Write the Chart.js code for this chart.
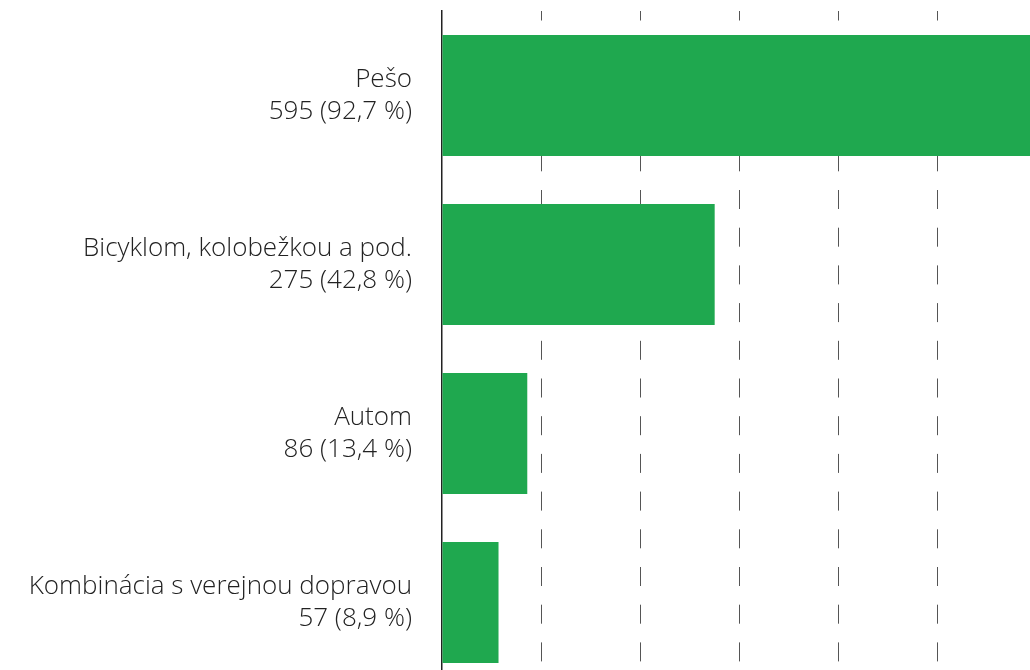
<!DOCTYPE html>
<html>
<head>
<meta charset="utf-8">
<script src="https://cdn.jsdelivr.net/npm/chart.js@4"></script>
<style>
  html, body { margin: 0; padding: 0; background: #fff; overflow: hidden; }
  canvas { display: block; }
</style>
</head>
<body>
<canvas id="myBarChart" width="1030" height="690"></canvas>
<script>
// data
const categories = ['Pešo', 'Bicyklom, kolobežkou a pod.', 'Autom', 'Kombinácia s verejnou dopravou'];
const counts = [595, 275, 86, 57];
const percents = ['92,7', '42,8', '13,4', '8,9'];
const xTicks = [0, 100, 200, 300, 400, 500];

// popisky v dvoch riadkoch
const labels = categories.map((c, i) => [c, `${counts[i]} (${percents[i]} %)`]);

const data_bar = {
  labels: labels,
  datasets: [{
    data: counts,
    backgroundColor: '#1fa84f',
    borderWidth: 0,
    categoryPercentage: 1,
    barPercentage: 0.716
  }]
};

const options_bar = {
  indexAxis: 'y',
  responsive: false,
  maintainAspectRatio: false,
  animation: false,
  layout: { padding: { top: 11, bottom: 3, right: 0 } },
  plugins: {
    legend: { display: false },
    tooltip: { enabled: false }
  },
  scales: {
    x: {
      min: 0,
      max: 593,
      afterBuildTicks: scale => {
        scale.ticks = xTicks.map(v => ({ value: v }));
      },
      afterFit: scale => {
        scale.height = 0;
        scale.paddingLeft = 0;
        scale.paddingRight = 0;
      },
      ticks: { display: false },
      border: { display: false, dash: [19, 18.7], dashOffset: 9.5 },
      grid: {
        drawTicks: false,
        color: ctx => ctx.tick && ctx.tick.value === 0 ? 'rgba(0,0,0,0)' : '#555',
        lineWidth: 1
      }
    },
    y: {
      afterFit: scale => {
        scale.width = 442;
        scale.paddingTop = 0;
        scale.paddingBottom = 0;
      },
      ticks: {
        padding: 30,
        color: '#222',
        font: { family: 'Open Sans', size: 26, weight: 300, lineHeight: 32 / 26 }
      },
      border: { display: true, color: '#222', width: 1.5 },
      grid: { display: false, drawTicks: false }
    }
  }
};

const ctx_bar = document.getElementById('myBarChart').getContext('2d');
const myChart_bar = new Chart(ctx_bar, {
  type: 'bar',
  data: data_bar,
  options: options_bar
});
</script>
</body>
</html>
